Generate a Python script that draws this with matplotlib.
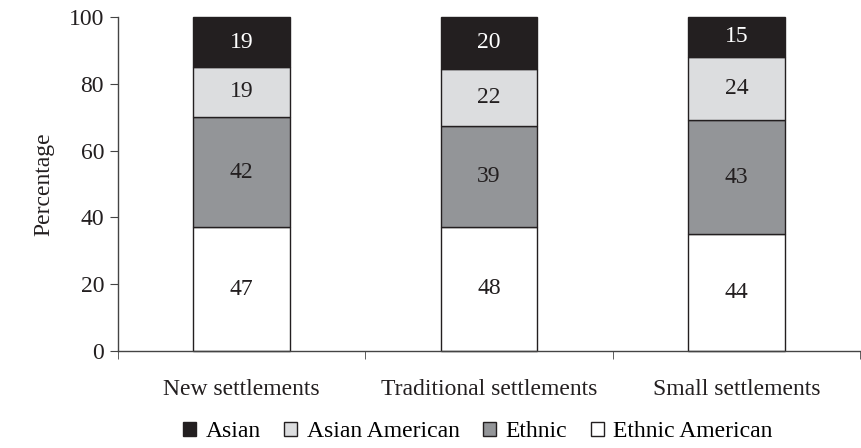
import matplotlib.pyplot as plt
import numpy as np

plt.rcParams['font.family'] = ['Liberation Serif', 'DejaVu Serif']

# Data (counts shown in segments, heights are percent of column total)
categories = ["New settlements", "Traditional settlements", "Small settlements"]
series = ["Asian", "Asian American", "Ethnic", "Ethnic American"]
ethnic_american = [47, 48, 44]
ethnic = [42, 39, 43]
asian_american = [19, 22, 24]
asian = [19, 20, 15]

colors = {"Asian": "#231f20", "Asian American": "#dcdddf",
          "Ethnic": "#939598", "Ethnic American": "#ffffff"}

stack = [("Ethnic American", ethnic_american), ("Ethnic", ethnic),
         ("Asian American", asian_american), ("Asian", asian)]
totals = np.sum([np.array(v) for _, v in stack], axis=0)

fig = plt.figure(figsize=(8.61, 4.48), dpi=100)
ax = fig.add_axes([0.137, 0.2165, 0.862, 0.7455])

x = np.arange(len(categories))
width = 0.39
bottom = np.zeros(len(categories))
handles = {}
for name, vals in stack:
    vals = np.array(vals)
    pct = vals / totals * 100
    b = ax.bar(x, pct, width, bottom=bottom, color=colors[name],
               edgecolor="#231f20", linewidth=1.0, label=name, clip_on=False)
    handles[name] = b
    for xi, p, bt, v in zip(x, pct, bottom, vals):
        ax.text(xi, bt + p / 2, str(v), ha="center", va="center", fontsize=17,
                color="white" if name == "Asian" else "#231f20")
    bottom += pct

ax.set_xlim(-0.5, 2.5)
ax.set_ylim(0, 100)
ax.set_yticks([0, 20, 40, 60, 80, 100])
ax.set_xticks(x)
ax.set_xticklabels(categories)
ax.tick_params(axis="x", length=0, pad=20, labelsize=17, colors="#231f20")
ax.set_xticks([-0.5, 0.5, 1.5, 2.5], minor=True)
ax.tick_params(axis="x", which="minor", length=6, direction="out", color="#444444")
ax.tick_params(axis="y", length=6, labelsize=17, colors="#231f20", pad=4)
ax.tick_params(axis="y", color="#444444")
ax.set_ylabel("Percentage", fontsize=17, color="#231f20", labelpad=10)

for s in ["top", "right"]:
    ax.spines[s].set_visible(False)
for s in ["left", "bottom"]:
    ax.spines[s].set_color("#444444")
    ax.spines[s].set_linewidth(1.0)

fig.legend([handles[n] for n in series], series, loc="lower center",
           bbox_to_anchor=(0.555, -0.035), ncol=4, frameon=False, fontsize=17,
           handlelength=0.55, handleheight=0.55, handletextpad=0.4, columnspacing=1.0)

fig.savefig("out.png", dpi=100)
